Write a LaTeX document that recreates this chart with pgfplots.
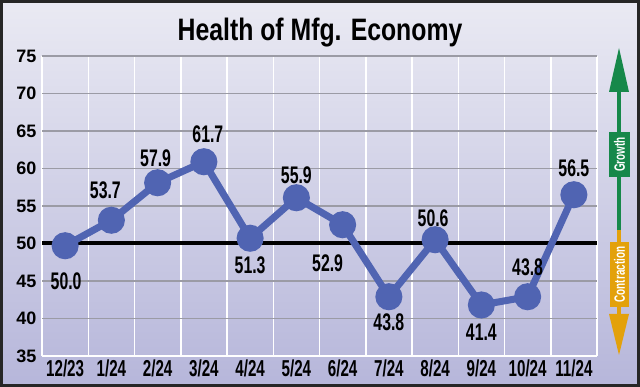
\documentclass[border=0pt]{standalone}
\usepackage{pgfplots}
\pgfplotsset{compat=1.18}
\usepackage{pgfplotstable}
\usepackage{fontspec}
\setmainfont{Liberation Sans}
\newfontfamily\titlefont{Liberation Sans}[FakeStretch=0.8]
\newfontfamily\condfont{Liberation Sans}[FakeStretch=0.66]
\newfontfamily\tickfont{Liberation Sans}[FakeStretch=0.66]
\definecolor{linecol}{RGB}{80,100,178}
\definecolor{bgtop}{RGB}{234,234,243}
\definecolor{bgbot}{RGB}{182,182,218}
\definecolor{grcol}{RGB}{22,136,74}
\definecolor{orcol}{RGB}{227,161,11}
\definecolor{gridgray}{RGB}{155,155,165}
\pgfplotstableread{
x y lab dx dy
0 49.7 50.0 1 -35
1 53.1 53.7 -6 30
2 58.1 57.9 -2 25
3 60.9 61.7 4 28
4 50.7 51.3 0 -27
5 56.1 55.9 0 23
6 52.5 52.9 -15 -38
7 42.9 43.8 0 -26
8 50.5 50.6 -2 22
9 41.8 41.4 0 -27
10 42.9 43.8 0 29
11 56.5 56.5 0 27
}\pmidata
\begin{document}
\begin{tikzpicture}[x=1pt,y=1pt]
\fill[top color=bgtop, bottom color=bgbot] (0,0) rectangle (640,387);
\begin{axis}[
  at={(42pt,31pt)}, anchor=south west,
  scale only axis, width=555pt, height=300pt,
  xmin=-0.5, xmax=11.5, ymin=35, ymax=75,
  xtick={0,...,11},
  xticklabels={12/23,1/24,2/24,3/24,4/24,5/24,6/24,7/24,8/24,9/24,10/24,11/24},
  minor xtick={-0.5,0.5,...,11.5},
  ytick={35,40,...,75},
  xminorgrids=true, ymajorgrids=true,
  minor grid style={white, line width=1.5pt},
  major grid style={gridgray, line width=1.3pt},
  axis line style={draw=none},
  major tick length=0pt, minor tick length=0pt,
  /pgf/number format/assume math mode=true,
  yticklabel style={font=\fontsize{18}{18}\selectfont\bfseries, xshift=-2pt},
  xticklabel style={font=\fontsize{23}{23}\tickfont\bfseries, yshift=0pt},
  clip=false,
]
\addplot[white, line width=1.5pt] coordinates {(-0.5,35) (11.5,35)};
\addplot[black, line width=4pt] coordinates {(-0.5,50) (11.5,50)};
\addplot[linecol, line width=7pt, mark=*, mark size=10pt,
  mark options={draw=none, fill=linecol},
  point meta=explicit symbolic,
  nodes near coords,
  visualization depends on={\thisrow{dx}\as\dx},
  visualization depends on={\thisrow{dy}\as\dy},
  every node near coord/.append style={font=\fontsize{24}{24}\condfont\bfseries, text=black, anchor=center, xshift=\dx pt, yshift=\dy pt, inner sep=0pt}
] table[x=x, y=y, meta=lab] {\pmidata};
\end{axis}
% title
\node[anchor=base, font=\fontsize{31}{31}\titlefont\bfseries] at (320,346) {Health of Mfg. Economy};
% growth / contraction indicator
\draw[grcol, line width=4pt] (619,296) -- (619,157);
\fill[grcol] (609,295) -- (629,295) -- (619,339) -- cycle;
\fill[grcol] (609,210) rectangle (630,255);
\node[rotate=90, text=white, font=\fontsize{15}{15}\condfont\bfseries] at (619.5,232.5) {Growth};
\draw[orcol, line width=4pt] (619,157) -- (619,72);
\fill[orcol] (609,73) -- (629,73) -- (619,32) -- cycle;
\fill[orcol] (610,80) rectangle (629,145);
\node[rotate=90, text=white, font=\fontsize{15}{15}\condfont\bfseries] at (619.5,112.5) {Contraction};
% border
\draw[line width=3pt, black!85] (1.5,1.5) rectangle (638.5,385.5);
\end{tikzpicture}
\end{document}
